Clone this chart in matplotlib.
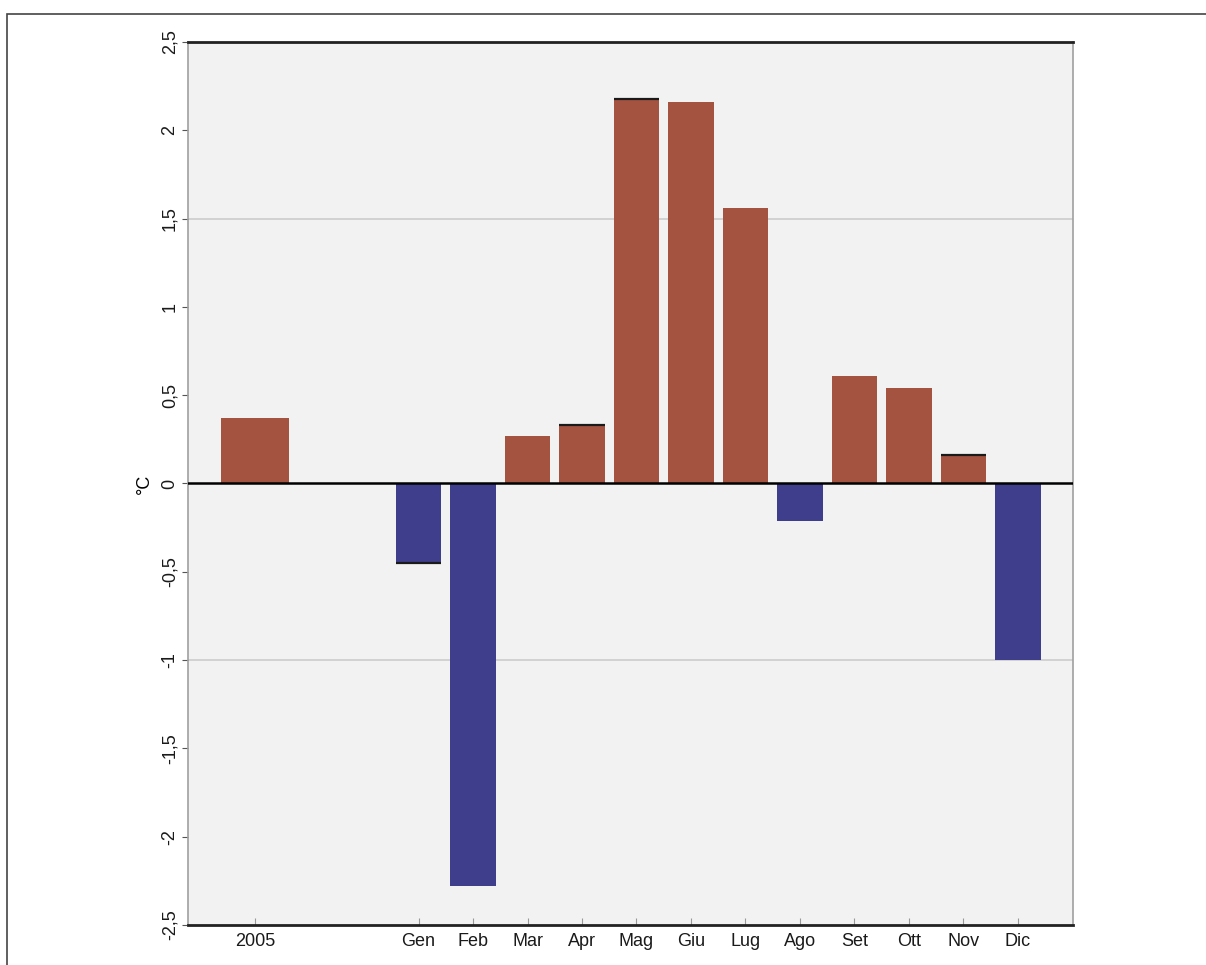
import matplotlib
matplotlib.use('Agg')
from matplotlib import pyplot as plt
from matplotlib.patches import Rectangle

plt.rcParams['font.family'] = ['Liberation Sans', 'DejaVu Sans']

# anomalie di temperatura (°C)
categories = ['2005', 'Gen', 'Feb', 'Mar', 'Apr', 'Mag', 'Giu',
              'Lug', 'Ago', 'Set', 'Ott', 'Nov', 'Dic']
positions = [0, 3, 4, 5, 6, 7, 8, 9, 10, 11, 12, 13, 14]
values = [0.37, -0.45, -2.28, 0.27, 0.33, 2.18, 2.16,
          1.56, -0.21, 0.61, 0.54, 0.16, -1.0]
widths = [1.25] + [0.83] * 12
# barre con il bordo scuro visibile all'estremità
edged = ['Gen', 'Apr', 'Mag', 'Nov']
y_ticks = [2.5, 2, 1.5, 1, 0.5, 0, -0.5, -1, -1.5, -2, -2.5]
y_labels = ['2,5', '2', '1,5', '1', '0,5', '0', '-0,5', '-1', '-1,5', '-2', '-2,5']

red = '#a55341'
blue = '#3e3e8c'
colors = [red if v >= 0 else blue for v in values]

fig = plt.figure(figsize=(12.06, 9.65), dpi=100)
ax = fig.add_axes([188 / 1206, 1 - 925 / 965, (1073 - 188) / 1206, (925 - 42) / 965])
ax.set_facecolor('#f2f2f2')

for y in [1.5, -1]:
    ax.axhline(y, color='#cfcfcf', lw=1.3, zorder=1)

ax.bar(positions, values, width=widths, color=colors, zorder=2)
for c, p, v, w in zip(categories, positions, values, widths):
    if c in edged:
        ax.hlines(v, p - w / 2, p + w / 2, color='#1a1a1a', lw=1.6, zorder=3)
ax.axhline(0, color='black', lw=1.8, zorder=3)

ax.set_ylim(-2.5, 2.5)
ax.set_xlim(-1.23, 15.01)
ax.set_yticks(y_ticks)
ax.set_yticklabels(y_labels, rotation=90, va='center', fontsize=13, color='#1a1a1a')
ax.set_xticks(positions)
ax.set_xticklabels(categories, fontsize=13, color='#1a1a1a')
ax.tick_params(axis='x', direction='in', length=5, color='#999999', pad=6)
ax.tick_params(axis='y', length=4, color='#555555', pad=3)
ax.set_ylabel('°C', fontsize=13, labelpad=6)

for side in ['top', 'bottom']:
    ax.spines[side].set_linewidth(2)
    ax.spines[side].set_color('#222222')
for side in ['left', 'right']:
    ax.spines[side].set_linewidth(1.2)
    ax.spines[side].set_color('#a0a0a0')

# cornice della figura
fig.patches.append(Rectangle((7 / 1206, -0.05), 1.1, 1 - 14 / 965 + 0.05,
                             transform=fig.transFigure, fill=False,
                             edgecolor='#444444', lw=1.2))

fig.savefig('out.png', dpi=100)
